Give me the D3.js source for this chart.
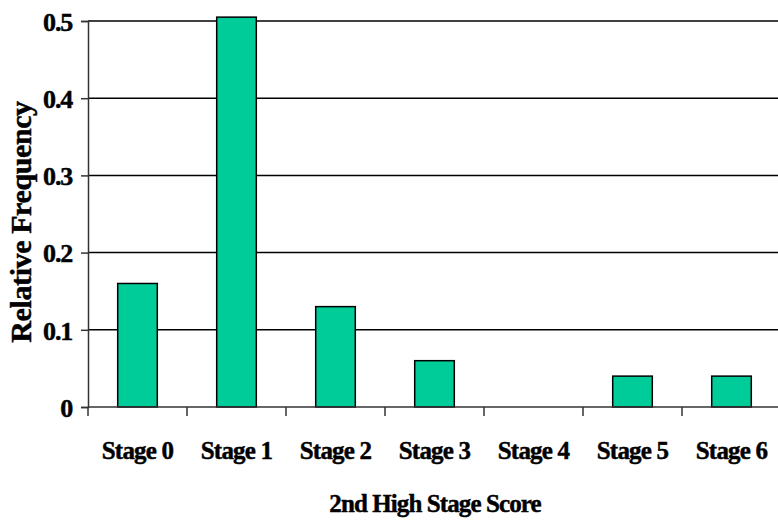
<!DOCTYPE html>
<html>
<head>
<meta charset="utf-8">
<script src="https://cdn.jsdelivr.net/npm/d3@7"></script>
<style>
  html, body { margin: 0; padding: 0; background: #fff; }
  svg { display: block; }
  text { font-family: "Liberation Serif", "Times New Roman", serif; font-weight: bold; fill: #000; stroke: #000; stroke-width: 0.45px; }
</style>
</head>
<body>
<svg id="chart" width="778" height="523"></svg>
<script>
// Relative frequency of the second-highest stage score
const categories = ["Stage 0", "Stage 1", "Stage 2", "Stage 3", "Stage 4", "Stage 5", "Stage 6"];
const frequencies = [0.16, 0.505, 0.13, 0.06, 0, 0.04, 0.04];
const yTicks = [0, 0.1, 0.2, 0.3, 0.4, 0.5];
const yTickLabels = ["0", "0.1", "0.2", "0.3", "0.4", "0.5"];
const xTitle = "2nd High Stage Score";
const yTitle = "Relative Frequency";

const svg = d3.select("#chart");
const plot = { left: 88, right: 781, top: 21, bottom: 407 };

const x = d3.scaleBand()
  .domain(categories)
  .range([plot.left, plot.right])
  .paddingInner(0.6)
  .paddingOuter(0.3);

const y = d3.scaleLinear()
  .domain([0, 0.5])
  .range([plot.bottom, plot.top]);

// horizontal gridlines
svg.append("g")
  .selectAll("line")
  .data(yTicks.filter(d => d > 0))
  .join("line")
  .attr("x1", plot.left)
  .attr("x2", plot.right)
  .attr("y1", d => y(d))
  .attr("y2", d => y(d))
  .attr("stroke", "#000")
  .attr("stroke-width", 1.5);

// bars
svg.append("g")
  .selectAll("rect")
  .data(categories.map((c, i) => ({ c, v: frequencies[i] })).filter(d => d.v > 0))
  .join("rect")
  .attr("x", d => x(d.c))
  .attr("y", d => y(d.v))
  .attr("width", x.bandwidth())
  .attr("height", d => y(0) - y(d.v))
  .attr("fill", "#00CC99")
  .attr("stroke", "#000")
  .attr("stroke-width", 1.5);

// y axis
const yAxis = d3.axisLeft(y)
  .tickValues(yTicks)
  .tickFormat((d, i) => yTickLabels[i])
  .tickSize(7)
  .tickPadding(9);

const gy = svg.append("g")
  .attr("transform", `translate(${plot.left},0)`)
  .call(yAxis);
gy.attr("font-family", null).attr("font-size", null);
gy.select(".domain").attr("stroke", "#333").attr("stroke-width", 1.5);
gy.selectAll(".tick line").attr("stroke", "#333").attr("stroke-width", 1.5);
gy.selectAll(".tick text")
  .attr("font-size", 26)
  .attr("letter-spacing", "-1.2px")
  .attr("dy", "0.36em");

// x axis: ticks at category boundaries
const step = x.step();
const boundaries = d3.range(categories.length + 1).map(i => plot.left + i * step);
const gx = svg.append("g");
gx.append("line")
  .attr("x1", plot.left)
  .attr("x2", plot.right)
  .attr("y1", y(0))
  .attr("y2", y(0))
  .attr("stroke", "#333")
  .attr("stroke-width", 1.5);
gx.selectAll("line.tick")
  .data(boundaries)
  .join("line")
  .attr("class", "tick")
  .attr("x1", d => d)
  .attr("x2", d => d)
  .attr("y1", y(0))
  .attr("y2", y(0) + 9)
  .attr("stroke", "#333")
  .attr("stroke-width", 1.5);
gx.selectAll("text")
  .data(categories)
  .join("text")
  .attr("x", d => x(d) + x.bandwidth() / 2)
  .attr("y", 459)
  .attr("text-anchor", "middle")
  .attr("font-size", 25)
  .attr("letter-spacing", "-0.8px")
  .text(d => d);

// axis titles
svg.append("text")
  .attr("x", 435)
  .attr("y", 512)
  .attr("text-anchor", "middle")
  .attr("font-size", 25)
  .attr("letter-spacing", "-0.9px")
  .text(xTitle);

svg.append("text")
  .attr("transform", "translate(31,222) rotate(-90)")
  .attr("text-anchor", "middle")
  .attr("font-size", 30)
  .attr("letter-spacing", "-0.4px")
  .text(yTitle);
</script>
</body>
</html>
